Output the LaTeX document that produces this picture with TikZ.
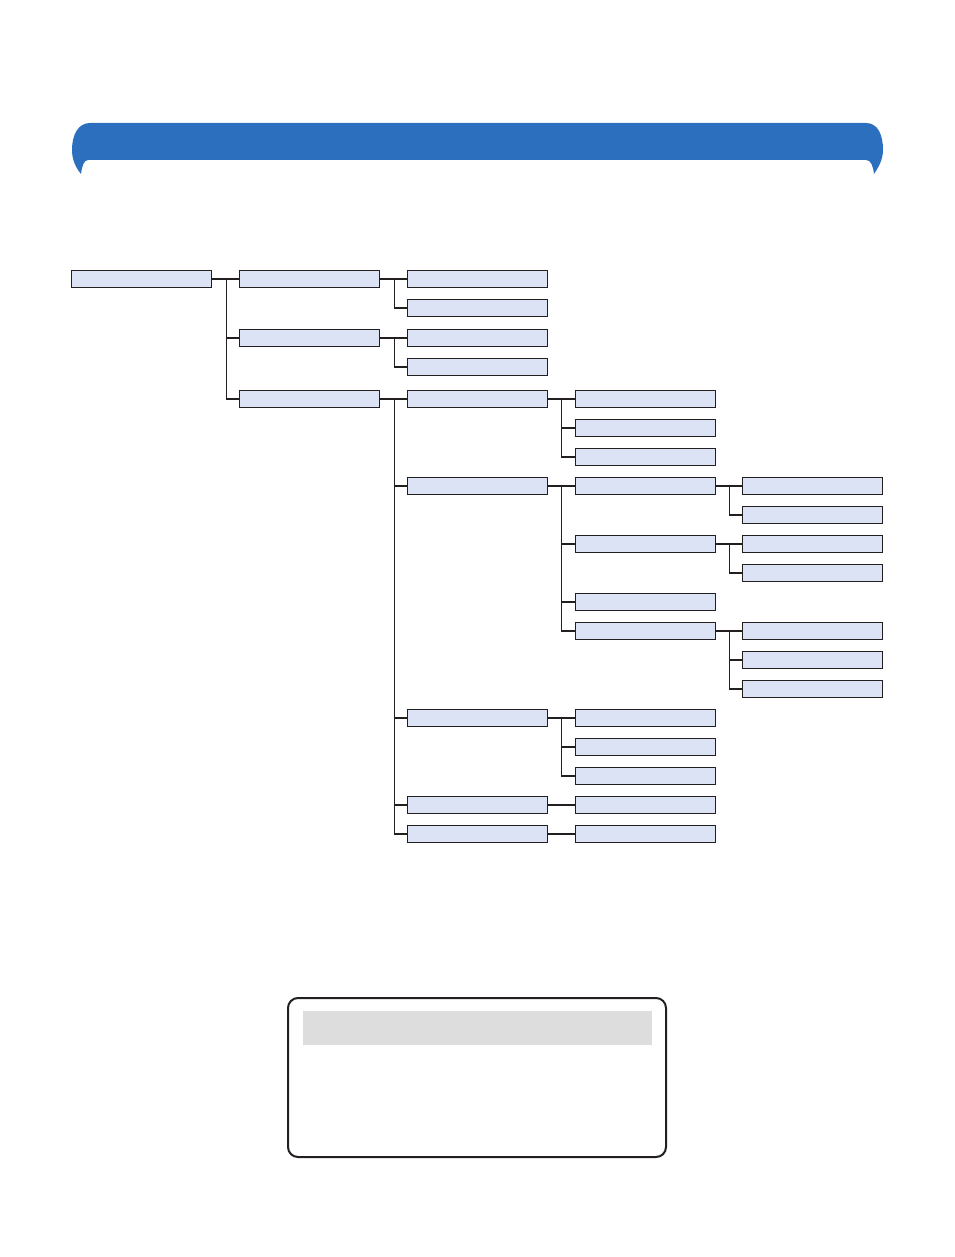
\documentclass[tikz,border=0pt]{standalone}
\usetikzlibrary{calc}
\definecolor{boxfill}{HTML}{DCE3F5}
\definecolor{ink}{HTML}{231F20}
\definecolor{banner}{HTML}{2D6FBF}
\definecolor{greybar}{HTML}{DDDDDD}
\begin{document}
\begin{tikzpicture}[x=1pt,y=-1pt,
  tbox/.style={rectangle,draw=ink,fill=boxfill,line width=1.2pt,minimum width=140pt,minimum height=17.5pt,inner sep=0pt},
  link/.style={draw=ink,line width=1.1pt}]
\useasboundingbox (0,0) rectangle (954,1257);
% banner
\fill[banner] (90,123) -- (866,123) .. controls (878,123) and (883,135) .. (883,150)
  .. controls (883,160) and (878,168) .. (874,174) .. controls (873,166) and (871,160) .. (866,160)
  -- (88,160) .. controls (84,160) and (82,166) .. (81,174) .. controls (76,168) and (72,160) .. (72,150)
  .. controls (72,135) and (78,123) .. (90,123) -- cycle;
% column 1
\node[tbox] (a) at (141.5,279) {};
% column 2
\node[tbox] (b1) at (309.5,279) {};
\node[tbox] (b2) at (309.5,338) {};
\node[tbox] (b3) at (309.5,399) {};
% column 3
\node[tbox] (c1) at (477.5,279) {};
\node[tbox] (c2) at (477.5,308) {};
\node[tbox] (c3) at (477.5,338) {};
\node[tbox] (c4) at (477.5,367) {};
\node[tbox] (c5) at (477.5,399) {};
\node[tbox] (c6) at (477.5,486) {};
\node[tbox] (c7) at (477.5,718) {};
\node[tbox] (c8) at (477.5,805) {};
\node[tbox] (c9) at (477.5,834) {};
% column 4
\node[tbox] (d1) at (645.5,399) {};
\node[tbox] (d2) at (645.5,428) {};
\node[tbox] (d3) at (645.5,457) {};
\node[tbox] (d4) at (645.5,486) {};
\node[tbox] (d5) at (645.5,544) {};
\node[tbox] (d6) at (645.5,602) {};
\node[tbox] (d7) at (645.5,631) {};
\node[tbox] (d8) at (645.5,718) {};
\node[tbox] (d9) at (645.5,747) {};
\node[tbox] (d10) at (645.5,776) {};
\node[tbox] (d11) at (645.5,805) {};
\node[tbox] (d12) at (645.5,834) {};
% column 5
\node[tbox] (e1) at (812.5,486) {};
\node[tbox] (e2) at (812.5,515) {};
\node[tbox] (e3) at (812.5,544) {};
\node[tbox] (e4) at (812.5,573) {};
\node[tbox] (e5) at (812.5,631) {};
\node[tbox] (e6) at (812.5,660) {};
\node[tbox] (e7) at (812.5,689) {};
% connectors
\foreach \c in {b1,b2,b3} \draw[link] (a.east) -- +(14,0) |- (\c.west);
\foreach \c in {c1,c2} \draw[link] (b1.east) -- +(14,0) |- (\c.west);
\foreach \c in {c3,c4} \draw[link] (b2.east) -- +(14,0) |- (\c.west);
\foreach \c in {c5,c6,c7,c8,c9} \draw[link] (b3.east) -- +(14,0) |- (\c.west);
\foreach \c in {d1,d2,d3} \draw[link] (c5.east) -- +(13,0) |- (\c.west);
\foreach \c in {d4,d5,d6,d7} \draw[link] (c6.east) -- +(13,0) |- (\c.west);
\foreach \c in {d8,d9,d10} \draw[link] (c7.east) -- +(13,0) |- (\c.west);
\draw[link] (c8.east) -- (d11.west);
\draw[link] (c9.east) -- (d12.west);
\foreach \c in {e1,e2} \draw[link] (d4.east) -- +(13,0) |- (\c.west);
\foreach \c in {e3,e4} \draw[link] (d5.east) -- +(13,0) |- (\c.west);
\foreach \c in {e5,e6,e7} \draw[link] (d7.east) -- +(13,0) |- (\c.west);
% legend box
\draw[ink,line width=2pt,rounded corners=10pt] (288,998) rectangle (666,1157);
\fill[greybar] (303,1011) rectangle (652,1045);
\end{tikzpicture}
\end{document}
